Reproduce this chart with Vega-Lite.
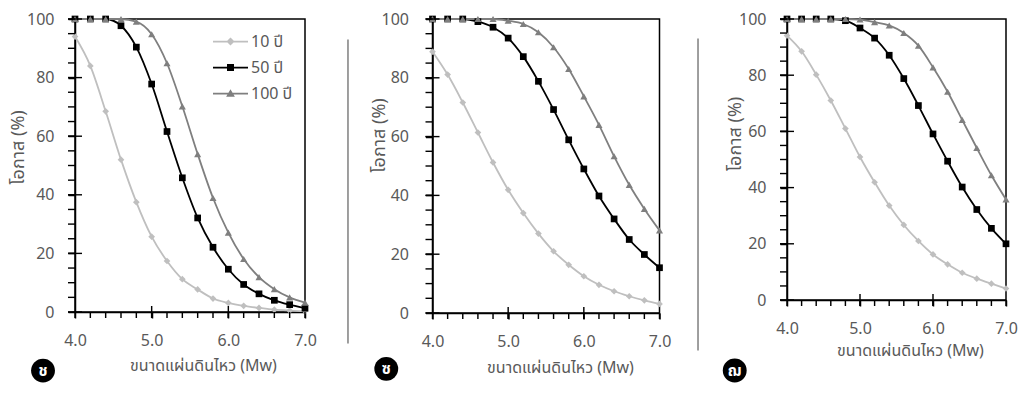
{
  "$schema": "https://vega.github.io/schema/vega-lite/v6.json",
  "background": "white",
  "padding": {"left": 8, "top": 10, "right": 5, "bottom": 5},
  "bounds": "flush",
  "spacing": 127.5,
  "config": {
    "font": "Tahoma, 'Noto Sans Thai', 'Noto Sans', sans-serif",
    "view": {"stroke": "#000000", "strokeWidth": 1.5},
    "axis": {
      "domainColor": "#000000", "domainWidth": 1.5, "tickColor": "#000000", "tickWidth": 1.5,
      "labelColor": "#595959", "labelFontSize": 16, "titleColor": "#595959", "titleFontSize": 16,
      "titleFontWeight": "normal", "grid": false, "labelOverlap": false, "labelFlush": false, "labelBound": false
    },
    "legend": {"labelColor": "#595959", "labelFontSize": 16, "symbolStrokeWidth": 0, "padding": 0}
  },
  "datasets": {
    "yticks": [{"v":0},{"v":5},{"v":10},{"v":15},{"v":20},{"v":25},{"v":30},{"v":35},{"v":40},{"v":45},{"v":50},{"v":55},{"v":60},{"v":65},{"v":70},{"v":75},{"v":80},{"v":85},{"v":90},{"v":95},{"v":100}],
    "curves": [
      {"panel":"ช","series":"10 ปี","mw":4.0,"p":94.0},{"panel":"ช","series":"10 ปี","mw":4.2,"p":84.0},{"panel":"ช","series":"10 ปี","mw":4.4,"p":68.5},{"panel":"ช","series":"10 ปี","mw":4.6,"p":52.0},{"panel":"ช","series":"10 ปี","mw":4.8,"p":37.5},{"panel":"ช","series":"10 ปี","mw":5.0,"p":25.7},{"panel":"ช","series":"10 ปี","mw":5.2,"p":17.4},{"panel":"ช","series":"10 ปี","mw":5.4,"p":11.2},{"panel":"ช","series":"10 ปี","mw":5.6,"p":7.7},{"panel":"ช","series":"10 ปี","mw":5.8,"p":4.6},{"panel":"ช","series":"10 ปี","mw":6.0,"p":3.1},{"panel":"ช","series":"10 ปี","mw":6.2,"p":2.1},{"panel":"ช","series":"10 ปี","mw":6.4,"p":1.4},{"panel":"ช","series":"10 ปี","mw":6.6,"p":0.8},{"panel":"ช","series":"10 ปี","mw":6.8,"p":0.5},{"panel":"ช","series":"10 ปี","mw":7.0,"p":0.3},
      {"panel":"ช","series":"50 ปี","mw":4.0,"p":100},{"panel":"ช","series":"50 ปี","mw":4.2,"p":100},{"panel":"ช","series":"50 ปี","mw":4.4,"p":100},{"panel":"ช","series":"50 ปี","mw":4.6,"p":97.7},{"panel":"ช","series":"50 ปี","mw":4.8,"p":90.4},{"panel":"ช","series":"50 ปี","mw":5.0,"p":77.8},{"panel":"ช","series":"50 ปี","mw":5.2,"p":61.6},{"panel":"ช","series":"50 ปี","mw":5.4,"p":45.8},{"panel":"ช","series":"50 ปี","mw":5.6,"p":32.1},{"panel":"ช","series":"50 ปี","mw":5.8,"p":22.1},{"panel":"ช","series":"50 ปี","mw":6.0,"p":14.6},{"panel":"ช","series":"50 ปี","mw":6.2,"p":9.4},{"panel":"ช","series":"50 ปี","mw":6.4,"p":6.2},{"panel":"ช","series":"50 ปี","mw":6.6,"p":4.0},{"panel":"ช","series":"50 ปี","mw":6.8,"p":2.5},{"panel":"ช","series":"50 ปี","mw":7.0,"p":1.3},
      {"panel":"ช","series":"100 ปี","mw":4.0,"p":100},{"panel":"ช","series":"100 ปี","mw":4.2,"p":100},{"panel":"ช","series":"100 ปี","mw":4.4,"p":100},{"panel":"ช","series":"100 ปี","mw":4.6,"p":100},{"panel":"ช","series":"100 ปี","mw":4.8,"p":99.1},{"panel":"ช","series":"100 ปี","mw":5.0,"p":94.8},{"panel":"ช","series":"100 ปี","mw":5.2,"p":84.9},{"panel":"ช","series":"100 ปี","mw":5.4,"p":70.2},{"panel":"ช","series":"100 ปี","mw":5.6,"p":53.9},{"panel":"ช","series":"100 ปี","mw":5.8,"p":38.9},{"panel":"ช","series":"100 ปี","mw":6.0,"p":27.1},{"panel":"ช","series":"100 ปี","mw":6.2,"p":18.1},{"panel":"ช","series":"100 ปี","mw":6.4,"p":11.9},{"panel":"ช","series":"100 ปี","mw":6.6,"p":7.8},{"panel":"ช","series":"100 ปี","mw":6.8,"p":5.0},{"panel":"ช","series":"100 ปี","mw":7.0,"p":3.2},
      {"panel":"ซ","series":"10 ปี","mw":4.0,"p":88.9},{"panel":"ซ","series":"10 ปี","mw":4.2,"p":81.1},{"panel":"ซ","series":"10 ปี","mw":4.4,"p":71.6},{"panel":"ซ","series":"10 ปี","mw":4.6,"p":61.4},{"panel":"ซ","series":"10 ปี","mw":4.8,"p":51.2},{"panel":"ซ","series":"10 ปี","mw":5.0,"p":41.9},{"panel":"ซ","series":"10 ปี","mw":5.2,"p":34.0},{"panel":"ซ","series":"10 ปี","mw":5.4,"p":27.0},{"panel":"ซ","series":"10 ปี","mw":5.6,"p":21.0},{"panel":"ซ","series":"10 ปี","mw":5.8,"p":16.4},{"panel":"ซ","series":"10 ปี","mw":6.0,"p":12.5},{"panel":"ซ","series":"10 ปี","mw":6.2,"p":9.6},{"panel":"ซ","series":"10 ปี","mw":6.4,"p":7.4},{"panel":"ซ","series":"10 ปี","mw":6.6,"p":5.7},{"panel":"ซ","series":"10 ปี","mw":6.8,"p":4.3},{"panel":"ซ","series":"10 ปี","mw":7.0,"p":3.1},
      {"panel":"ซ","series":"50 ปี","mw":4.0,"p":100},{"panel":"ซ","series":"50 ปี","mw":4.2,"p":100},{"panel":"ซ","series":"50 ปี","mw":4.4,"p":100},{"panel":"ซ","series":"50 ปี","mw":4.6,"p":99.1},{"panel":"ซ","series":"50 ปี","mw":4.8,"p":97.2},{"panel":"ซ","series":"50 ปี","mw":5.0,"p":93.5},{"panel":"ซ","series":"50 ปี","mw":5.2,"p":87.2},{"panel":"ซ","series":"50 ปี","mw":5.4,"p":78.8},{"panel":"ซ","series":"50 ปี","mw":5.6,"p":69.2},{"panel":"ซ","series":"50 ปี","mw":5.8,"p":58.9},{"panel":"ซ","series":"50 ปี","mw":6.0,"p":49.0},{"panel":"ซ","series":"50 ปี","mw":6.2,"p":39.8},{"panel":"ซ","series":"50 ปี","mw":6.4,"p":32.0},{"panel":"ซ","series":"50 ปี","mw":6.6,"p":25.0},{"panel":"ซ","series":"50 ปี","mw":6.8,"p":19.9},{"panel":"ซ","series":"50 ปี","mw":7.0,"p":15.4},
      {"panel":"ซ","series":"100 ปี","mw":4.0,"p":100},{"panel":"ซ","series":"100 ปี","mw":4.2,"p":100},{"panel":"ซ","series":"100 ปี","mw":4.4,"p":100},{"panel":"ซ","series":"100 ปี","mw":4.6,"p":100},{"panel":"ซ","series":"100 ปี","mw":4.8,"p":100},{"panel":"ซ","series":"100 ปี","mw":5.0,"p":99.4},{"panel":"ซ","series":"100 ปี","mw":5.2,"p":98.3},{"panel":"ซ","series":"100 ปี","mw":5.4,"p":95.5},{"panel":"ซ","series":"100 ปี","mw":5.6,"p":90.4},{"panel":"ซ","series":"100 ปี","mw":5.8,"p":83.0},{"panel":"ซ","series":"100 ปี","mw":6.0,"p":73.7},{"panel":"ซ","series":"100 ปี","mw":6.2,"p":64.0},{"panel":"ซ","series":"100 ปี","mw":6.4,"p":53.3},{"panel":"ซ","series":"100 ปี","mw":6.6,"p":43.6},{"panel":"ซ","series":"100 ปี","mw":6.8,"p":35.4},{"panel":"ซ","series":"100 ปี","mw":7.0,"p":28.1},
      {"panel":"ฌ","series":"10 ปี","mw":4.0,"p":94.1},{"panel":"ฌ","series":"10 ปี","mw":4.2,"p":88.5},{"panel":"ฌ","series":"10 ปี","mw":4.4,"p":80.2},{"panel":"ฌ","series":"10 ปี","mw":4.6,"p":71.0},{"panel":"ฌ","series":"10 ปี","mw":4.8,"p":61.0},{"panel":"ฌ","series":"10 ปี","mw":5.0,"p":50.9},{"panel":"ฌ","series":"10 ปี","mw":5.2,"p":41.9},{"panel":"ฌ","series":"10 ปี","mw":5.4,"p":33.6},{"panel":"ฌ","series":"10 ปี","mw":5.6,"p":26.7},{"panel":"ฌ","series":"10 ปี","mw":5.8,"p":21.0},{"panel":"ฌ","series":"10 ปี","mw":6.0,"p":16.2},{"panel":"ฌ","series":"10 ปี","mw":6.2,"p":12.7},{"panel":"ฌ","series":"10 ปี","mw":6.4,"p":9.7},{"panel":"ฌ","series":"10 ปี","mw":6.6,"p":7.6},{"panel":"ฌ","series":"10 ปี","mw":6.8,"p":5.8},{"panel":"ฌ","series":"10 ปี","mw":7.0,"p":4.1},
      {"panel":"ฌ","series":"50 ปี","mw":4.0,"p":100},{"panel":"ฌ","series":"50 ปี","mw":4.2,"p":100},{"panel":"ฌ","series":"50 ปี","mw":4.4,"p":100},{"panel":"ฌ","series":"50 ปี","mw":4.6,"p":100},{"panel":"ฌ","series":"50 ปี","mw":4.8,"p":99.4},{"panel":"ฌ","series":"50 ปี","mw":5.0,"p":96.8},{"panel":"ฌ","series":"50 ปี","mw":5.2,"p":93.2},{"panel":"ฌ","series":"50 ปี","mw":5.4,"p":87.1},{"panel":"ฌ","series":"50 ปี","mw":5.6,"p":78.8},{"panel":"ฌ","series":"50 ปี","mw":5.8,"p":69.2},{"panel":"ฌ","series":"50 ปี","mw":6.0,"p":59.1},{"panel":"ฌ","series":"50 ปี","mw":6.2,"p":49.4},{"panel":"ฌ","series":"50 ปี","mw":6.4,"p":40.2},{"panel":"ฌ","series":"50 ปี","mw":6.6,"p":32.2},{"panel":"ฌ","series":"50 ปี","mw":6.8,"p":25.5},{"panel":"ฌ","series":"50 ปี","mw":7.0,"p":20.0},
      {"panel":"ฌ","series":"100 ปี","mw":4.0,"p":100},{"panel":"ฌ","series":"100 ปี","mw":4.2,"p":100},{"panel":"ฌ","series":"100 ปี","mw":4.4,"p":100},{"panel":"ฌ","series":"100 ปี","mw":4.6,"p":100},{"panel":"ฌ","series":"100 ปี","mw":4.8,"p":100},{"panel":"ฌ","series":"100 ปี","mw":5.0,"p":99.8},{"panel":"ฌ","series":"100 ปี","mw":5.2,"p":98.9},{"panel":"ฌ","series":"100 ปี","mw":5.4,"p":97.7},{"panel":"ฌ","series":"100 ปี","mw":5.6,"p":95.0},{"panel":"ฌ","series":"100 ปี","mw":5.8,"p":90.5},{"panel":"ฌ","series":"100 ปี","mw":6.0,"p":82.8},{"panel":"ฌ","series":"100 ปี","mw":6.2,"p":74.1},{"panel":"ฌ","series":"100 ปี","mw":6.4,"p":64.1},{"panel":"ฌ","series":"100 ปี","mw":6.6,"p":54.1},{"panel":"ฌ","series":"100 ปี","mw":6.8,"p":44.4},{"panel":"ฌ","series":"100 ปี","mw":7.0,"p":35.8}
    ]
  },
  "hconcat": [
    {
      "width": 230, "height": 293,
      "data": {"name": "curves"},
      "transform": [{"filter": "datum.panel === 'ช'"}],
      "resolve": {"axis": {"y": "independent", "x": "independent"}},
      "layer": [
        {
          "mark": {"type": "line", "interpolate": "monotone", "strokeWidth": 1.8},
          "encoding": {
            "x": {"field": "mw", "type": "quantitative", "scale": {"domain": [4, 7], "nice": false, "zero": false},
              "axis": {"orient": "bottom", "values": [4,5,6,7], "format": ".1f", "labelOverlap": false, "ticks": true, "tickSize": 6, "labelPadding": 14, "title": "ขนาดแผ่นดินไหว (Mw)", "titleX": 128, "titleY": 53, "titleBaseline": "middle", "titleAnchor": "middle", "titleAlign": "center"}},
            "y": {"field": "p", "type": "quantitative", "scale": {"domain": [0, 100], "nice": false},
              "axis": {"orient": "left", "values": [0,20,40,60,80,100], "labelOverlap": false, "ticks": true, "tickSize": 7, "labelPadding": 14, "title": "โอกาส (%)", "titleFontSize": 18, "titleX": -57, "titleY": 128, "titleBaseline": "middle", "titleAlign": "center"}},
            "color": {"field": "series", "type": "nominal", "scale": {"domain": ["10 ปี", "50 ปี", "100 ปี"], "range": ["#bfbfbf", "#000000", "#7f7f7f"]},
              "legend": {"orient": "none", "legendX": 138, "legendY": 5, "title": null, "symbolSize": 1225, "labelOffset": 3, "rowPadding": -3}}
          }
        },
        {
          "transform": [{"filter": "datum.series === '10 ปี'"}],
          "mark": {"type": "point", "shape": "diamond", "filled": true, "size": 45, "opacity": 1},
          "encoding": {"x": {"field": "mw", "type": "quantitative", "axis": null}, "y": {"field": "p", "type": "quantitative", "axis": null}, "color": {"field": "series", "type": "nominal"}}
        },
        {
          "transform": [{"filter": "datum.series === '50 ปี'"}],
          "mark": {"type": "point", "shape": "square", "filled": true, "size": 45, "opacity": 1},
          "encoding": {"x": {"field": "mw", "type": "quantitative", "axis": null}, "y": {"field": "p", "type": "quantitative", "axis": null}, "color": {"field": "series", "type": "nominal"}}
        },
        {
          "transform": [{"filter": "datum.series === '100 ปี'"}],
          "mark": {"type": "point", "shape": "triangle-up", "filled": true, "size": 50, "opacity": 1},
          "encoding": {"x": {"field": "mw", "type": "quantitative", "axis": null}, "y": {"field": "p", "type": "quantitative", "axis": null}, "color": {"field": "series", "type": "nominal"}}
        },
        {
          "transform": [{"filter": "datum.p > 1000"}],
          "mark": {"type": "point", "filled": true, "opacity": 1},
          "encoding": {"x": {"field": "mw", "type": "quantitative", "axis": null}, "y": {"field": "p", "type": "quantitative", "axis": null}, "color": {"field": "series", "type": "nominal"},
            "shape": {"field": "series", "type": "nominal", "scale": {"domain": ["10 ปี", "50 ปี", "100 ปี"], "range": ["M-1,-0.05H1V0.05H-1Z M0,-0.23L0.23,0L0,0.23L-0.23,0Z", "M-1,-0.05H1V0.05H-1Z M-0.2,-0.2H0.2V0.2H-0.2Z", "M-1,-0.05H1V0.05H-1Z M0,-0.25L0.25,0.18H-0.25Z"]}}}
        },
        {
          "transform": [{"filter": "datum.series === '10 ปี'"}],
          "mark": {"type": "point", "shape": "M-0.12,0H0.12V1H-0.12Z", "filled": true, "color": "#000000", "size": 144, "opacity": 1, "clip": false},
          "encoding": {"x": {"field": "mw", "type": "quantitative", "axis": null}, "y": {"value": "height"}}
        },
        {
          "transform": [{"filter": "datum.series === '10 ปี' && (datum.mw === 5 || datum.mw === 6)"}],
          "mark": {"type": "point", "shape": "M-0.12,-1H0.12V1H-0.12Z", "filled": true, "color": "#000000", "size": 144, "opacity": 1, "clip": false},
          "encoding": {"x": {"field": "mw", "type": "quantitative", "axis": null}, "y": {"value": "height"}}
        },
        {
          "data": {"name": "yticks"},
          "mark": {"type": "point", "shape": "M-1,-0.1H0V0.1H-1Z", "filled": true, "color": "#000000", "size": 196, "opacity": 1, "clip": false},
          "encoding": {"y": {"field": "v", "type": "quantitative", "axis": null}, "x": {"value": 0}}
        },
        {
          "data": {"name": "yticks"},
          "transform": [{"filter": "datum.v % 20 === 0"}],
          "mark": {"type": "point", "shape": "M-1,-0.1H1V0.1H-1Z", "filled": true, "color": "#000000", "size": 196, "opacity": 1, "clip": false},
          "encoding": {"y": {"field": "v", "type": "quantitative", "axis": null}, "x": {"value": 0}}
        },
        {
          "data": {"values": [{"label": "ช"}]},
          "mark": {"type": "point", "shape": "circle", "filled": true, "size": 570, "color": "#000000", "opacity": 1, "clip": false},
          "encoding": {"x": {"datum": 3.583, "type": "quantitative", "axis": null}, "y": {"datum": -20, "type": "quantitative", "axis": null}}
        },
        {
          "data": {"values": [{"label": "ช"}]},
          "mark": {"type": "text", "color": "#ffffff", "fontSize": 15, "fontWeight": "bold", "align": "center", "baseline": "middle", "clip": false},
          "encoding": {"x": {"datum": 3.583, "type": "quantitative", "axis": null}, "y": {"datum": -20, "type": "quantitative", "axis": null}, "text": {"field": "label"}}
        }
      ]
    },
    {
      "width": 227, "height": 294,
      "data": {"name": "curves"},
      "transform": [{"filter": "datum.panel === 'ซ'"}],
      "resolve": {"axis": {"y": "independent", "x": "independent"}},
      "layer": [
        {
          "mark": {"type": "line", "interpolate": "monotone", "strokeWidth": 1.8},
          "encoding": {
            "x": {"field": "mw", "type": "quantitative", "scale": {"domain": [4, 7], "nice": false, "zero": false},
              "axis": {"orient": "bottom", "values": [4,5,6,7], "format": ".1f", "labelOverlap": false, "ticks": true, "tickSize": 6, "labelPadding": 14, "title": "ขนาดแผ่นดินไหว (Mw)", "titleX": 127.5, "titleY": 54, "titleBaseline": "middle", "titleAnchor": "middle", "titleAlign": "center"}},
            "y": {"field": "p", "type": "quantitative", "scale": {"domain": [0, 100], "nice": false},
              "axis": {"orient": "left", "values": [0,20,40,60,80,100], "labelOverlap": false, "ticks": true, "tickSize": 7, "labelPadding": 17, "title": "โอกาส (%)", "titleFontSize": 18, "titleX": -53, "titleY": 116, "titleBaseline": "middle", "titleAlign": "center"}},
            "color": {"field": "series", "type": "nominal", "scale": {"domain": ["10 ปี", "50 ปี", "100 ปี"], "range": ["#bfbfbf", "#000000", "#7f7f7f"]},
              "legend": {"orient": "none", "legendX": 14.5, "legendY": 190.7, "title": null, "symbolSize": 1225, "labelOffset": 4, "rowPadding": -2.5}}
          }
        },
        {
          "transform": [{"filter": "datum.series === '10 ปี'"}],
          "mark": {"type": "point", "shape": "diamond", "filled": true, "size": 45, "opacity": 1},
          "encoding": {"x": {"field": "mw", "type": "quantitative", "axis": null}, "y": {"field": "p", "type": "quantitative", "axis": null}, "color": {"field": "series", "type": "nominal"}}
        },
        {
          "transform": [{"filter": "datum.series === '50 ปี'"}],
          "mark": {"type": "point", "shape": "square", "filled": true, "size": 45, "opacity": 1},
          "encoding": {"x": {"field": "mw", "type": "quantitative", "axis": null}, "y": {"field": "p", "type": "quantitative", "axis": null}, "color": {"field": "series", "type": "nominal"}}
        },
        {
          "transform": [{"filter": "datum.series === '100 ปี'"}],
          "mark": {"type": "point", "shape": "triangle-up", "filled": true, "size": 50, "opacity": 1},
          "encoding": {"x": {"field": "mw", "type": "quantitative", "axis": null}, "y": {"field": "p", "type": "quantitative", "axis": null}, "color": {"field": "series", "type": "nominal"}}
        },
        {
          "transform": [{"filter": "datum.p > 1000"}],
          "mark": {"type": "point", "filled": true, "opacity": 1},
          "encoding": {"x": {"field": "mw", "type": "quantitative", "axis": null}, "y": {"field": "p", "type": "quantitative", "axis": null}, "color": {"field": "series", "type": "nominal"},
            "shape": {"field": "series", "type": "nominal", "scale": {"domain": ["10 ปี", "50 ปี", "100 ปี"], "range": ["M-1,-0.05H1V0.05H-1Z M0,-0.23L0.23,0L0,0.23L-0.23,0Z", "M-1,-0.05H1V0.05H-1Z M-0.2,-0.2H0.2V0.2H-0.2Z", "M-1,-0.05H1V0.05H-1Z M0,-0.25L0.25,0.18H-0.25Z"]}}}
        },
        {
          "transform": [{"filter": "datum.series === '10 ปี'"}],
          "mark": {"type": "point", "shape": "M-0.12,0H0.12V1H-0.12Z", "filled": true, "color": "#000000", "size": 144, "opacity": 1, "clip": false},
          "encoding": {"x": {"field": "mw", "type": "quantitative", "axis": null}, "y": {"value": "height"}}
        },
        {
          "transform": [{"filter": "datum.series === '10 ปี' && (datum.mw === 5 || datum.mw === 6)"}],
          "mark": {"type": "point", "shape": "M-0.12,-1H0.12V1H-0.12Z", "filled": true, "color": "#000000", "size": 144, "opacity": 1, "clip": false},
          "encoding": {"x": {"field": "mw", "type": "quantitative", "axis": null}, "y": {"value": "height"}}
        },
        {
          "data": {"name": "yticks"},
          "mark": {"type": "point", "shape": "M-1,-0.1H0V0.1H-1Z", "filled": true, "color": "#000000", "size": 196, "opacity": 1, "clip": false},
          "encoding": {"y": {"field": "v", "type": "quantitative", "axis": null}, "x": {"value": 0}}
        },
        {
          "data": {"name": "yticks"},
          "transform": [{"filter": "datum.v % 20 === 0"}],
          "mark": {"type": "point", "shape": "M-1,-0.1H1V0.1H-1Z", "filled": true, "color": "#000000", "size": 196, "opacity": 1, "clip": false},
          "encoding": {"y": {"field": "v", "type": "quantitative", "axis": null}, "x": {"value": 0}}
        },
        {
          "data": {"values": [{"label": "sep"}]},
          "mark": {"type": "rule", "color": "#7f7f7f", "strokeWidth": 1.5, "clip": false},
          "encoding": {"x": {"datum": 2.883, "type": "quantitative", "axis": null}, "y": {"datum": 93, "type": "quantitative", "axis": null}, "y2": {"datum": -10.4}}
        },
        {
          "data": {"values": [{"label": "ซ"}]},
          "mark": {"type": "point", "shape": "circle", "filled": true, "size": 570, "color": "#000000", "opacity": 1, "clip": false},
          "encoding": {"x": {"datum": 3.389, "type": "quantitative", "axis": null}, "y": {"datum": -19, "type": "quantitative", "axis": null}}
        },
        {
          "data": {"values": [{"label": "ซ"}]},
          "mark": {"type": "text", "color": "#ffffff", "fontSize": 15, "fontWeight": "bold", "align": "center", "baseline": "middle", "clip": false},
          "encoding": {"x": {"datum": 3.389, "type": "quantitative", "axis": null}, "y": {"datum": -19, "type": "quantitative", "axis": null}, "text": {"field": "label"}}
        }
      ]
    },
    {
      "width": 219, "height": 281,
      "data": {"name": "curves"},
      "transform": [{"filter": "datum.panel === 'ฌ'"}],
      "resolve": {"axis": {"y": "independent", "x": "independent"}},
      "layer": [
        {
          "mark": {"type": "line", "interpolate": "monotone", "strokeWidth": 1.8},
          "encoding": {
            "x": {"field": "mw", "type": "quantitative", "scale": {"domain": [4, 7], "nice": false, "zero": false},
              "axis": {"orient": "bottom", "values": [4,5,6,7], "format": ".1f", "labelOverlap": false, "ticks": true, "tickSize": 6, "labelPadding": 14, "title": "ขนาดแผ่นดินไหว (Mw)", "titleX": 123, "titleY": 50.5, "titleBaseline": "middle", "titleAnchor": "middle", "titleAlign": "center"}},
            "y": {"field": "p", "type": "quantitative", "scale": {"domain": [0, 100], "nice": false},
              "axis": {"orient": "left", "values": [0,20,40,60,80,100], "labelOverlap": false, "ticks": true, "tickSize": 7, "labelPadding": 14, "title": "โอกาส (%)", "titleFontSize": 18, "titleX": -52, "titleY": 114.5, "titleBaseline": "middle", "titleAlign": "center"}},
            "color": {"field": "series", "type": "nominal", "scale": {"domain": ["10 ปี", "50 ปี", "100 ปี"], "range": ["#bfbfbf", "#000000", "#7f7f7f"]},
              "legend": {"orient": "none", "legendX": 18.7, "legendY": 175.7, "title": null, "symbolSize": 1225, "labelOffset": 3, "rowPadding": -3.7}}
          }
        },
        {
          "transform": [{"filter": "datum.series === '10 ปี'"}],
          "mark": {"type": "point", "shape": "diamond", "filled": true, "size": 45, "opacity": 1},
          "encoding": {"x": {"field": "mw", "type": "quantitative", "axis": null}, "y": {"field": "p", "type": "quantitative", "axis": null}, "color": {"field": "series", "type": "nominal"}}
        },
        {
          "transform": [{"filter": "datum.series === '50 ปี'"}],
          "mark": {"type": "point", "shape": "square", "filled": true, "size": 45, "opacity": 1},
          "encoding": {"x": {"field": "mw", "type": "quantitative", "axis": null}, "y": {"field": "p", "type": "quantitative", "axis": null}, "color": {"field": "series", "type": "nominal"}}
        },
        {
          "transform": [{"filter": "datum.series === '100 ปี'"}],
          "mark": {"type": "point", "shape": "triangle-up", "filled": true, "size": 50, "opacity": 1},
          "encoding": {"x": {"field": "mw", "type": "quantitative", "axis": null}, "y": {"field": "p", "type": "quantitative", "axis": null}, "color": {"field": "series", "type": "nominal"}}
        },
        {
          "transform": [{"filter": "datum.p > 1000"}],
          "mark": {"type": "point", "filled": true, "opacity": 1},
          "encoding": {"x": {"field": "mw", "type": "quantitative", "axis": null}, "y": {"field": "p", "type": "quantitative", "axis": null}, "color": {"field": "series", "type": "nominal"},
            "shape": {"field": "series", "type": "nominal", "scale": {"domain": ["10 ปี", "50 ปี", "100 ปี"], "range": ["M-1,-0.05H1V0.05H-1Z M0,-0.23L0.23,0L0,0.23L-0.23,0Z", "M-1,-0.05H1V0.05H-1Z M-0.2,-0.2H0.2V0.2H-0.2Z", "M-1,-0.05H1V0.05H-1Z M0,-0.25L0.25,0.18H-0.25Z"]}}}
        },
        {
          "transform": [{"filter": "datum.series === '10 ปี'"}],
          "mark": {"type": "point", "shape": "M-0.12,0H0.12V1H-0.12Z", "filled": true, "color": "#000000", "size": 144, "opacity": 1, "clip": false},
          "encoding": {"x": {"field": "mw", "type": "quantitative", "axis": null}, "y": {"value": "height"}}
        },
        {
          "transform": [{"filter": "datum.series === '10 ปี' && (datum.mw === 5 || datum.mw === 6)"}],
          "mark": {"type": "point", "shape": "M-0.12,-1H0.12V1H-0.12Z", "filled": true, "color": "#000000", "size": 144, "opacity": 1, "clip": false},
          "encoding": {"x": {"field": "mw", "type": "quantitative", "axis": null}, "y": {"value": "height"}}
        },
        {
          "data": {"name": "yticks"},
          "mark": {"type": "point", "shape": "M-1,-0.1H0V0.1H-1Z", "filled": true, "color": "#000000", "size": 196, "opacity": 1, "clip": false},
          "encoding": {"y": {"field": "v", "type": "quantitative", "axis": null}, "x": {"value": 0}}
        },
        {
          "data": {"name": "yticks"},
          "transform": [{"filter": "datum.v % 20 === 0"}],
          "mark": {"type": "point", "shape": "M-1,-0.1H1V0.1H-1Z", "filled": true, "color": "#000000", "size": 196, "opacity": 1, "clip": false},
          "encoding": {"y": {"field": "v", "type": "quantitative", "axis": null}, "x": {"value": 0}}
        },
        {
          "data": {"values": [{"label": "sep"}]},
          "mark": {"type": "rule", "color": "#7f7f7f", "strokeWidth": 1.5, "clip": false},
          "encoding": {"x": {"datum": 2.781, "type": "quantitative", "axis": null}, "y": {"datum": 93.1, "type": "quantitative", "axis": null}, "y2": {"datum": -18}}
        },
        {
          "data": {"values": [{"label": "ฌ"}]},
          "mark": {"type": "point", "shape": "circle", "filled": true, "size": 570, "color": "#000000", "opacity": 1, "clip": false},
          "encoding": {"x": {"datum": 3.284, "type": "quantitative", "axis": null}, "y": {"datum": -25.1, "type": "quantitative", "axis": null}}
        },
        {
          "data": {"values": [{"label": "ฌ"}]},
          "mark": {"type": "text", "color": "#ffffff", "fontSize": 15, "fontWeight": "bold", "align": "center", "baseline": "middle", "clip": false},
          "encoding": {"x": {"datum": 3.284, "type": "quantitative", "axis": null}, "y": {"datum": -25.1, "type": "quantitative", "axis": null}, "text": {"field": "label"}}
        }
      ]
    }
  ]
}
